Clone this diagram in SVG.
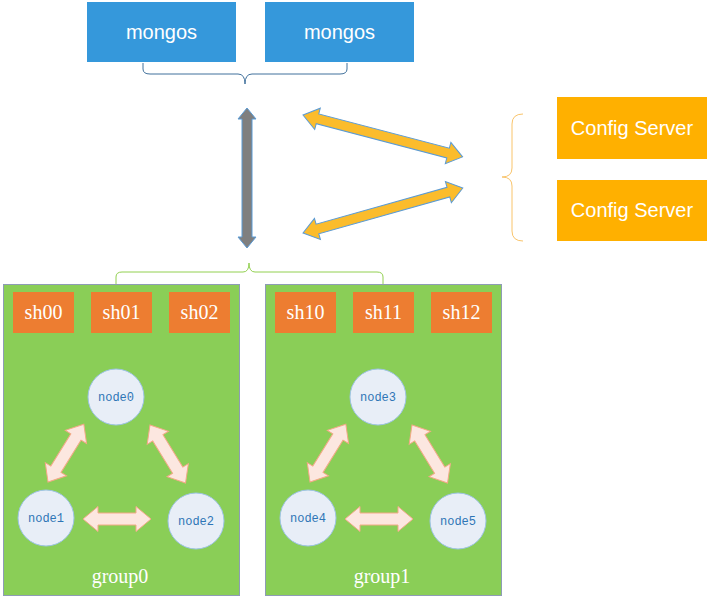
<svg xmlns="http://www.w3.org/2000/svg" xmlns:xlink="http://www.w3.org/1999/xlink" width="708" height="599" viewBox="0 0 708 599">
<style>
.mg{fill:#3598DB}
.mgt{fill:#fff;font-family:"Liberation Sans",Arial,sans-serif;font-size:20px;text-anchor:middle}
.cf{fill:#FFB000}
.grp{fill:#8ACE57;stroke:#8E9CB5;stroke-width:1}
.sh{fill:#ED7D31}
.sht{fill:#fff;font-family:"Liberation Serif","Times New Roman",serif;font-size:20px;text-anchor:middle}
.gt{fill:#fff;font-family:"Liberation Serif","Times New Roman",serif;font-size:20px;text-anchor:middle}
.nd{fill:#E8EEF7;stroke:#9DC3E6;stroke-width:1}
.ndt{fill:#2E75B6;font-family:"Liberation Mono","Courier New",monospace;font-size:12px;text-anchor:middle}
.pa{fill:#FCE7E0;stroke:#F4A987;stroke-width:1}
.oa{fill:#FBBC2C;stroke:#5B9BD5;stroke-width:1}
.ga{fill:#7F7F7F;stroke:#5B9BD5;stroke-width:1}
.br{fill:none;stroke-width:1}
</style>
<defs>
<path id="peach" d="M0,0 L15,-12.5 L15,-6 L53,-6 L53,-12.5 L68,0 L53,12.5 L53,6 L15,6 L15,12.5 Z"/>
</defs>

<g id="mongos1"><rect class="mg" x="87" y="2" width="149" height="60"/><text class="mgt" x="161.5" y="39">mongos</text></g>
<g id="mongos2"><rect class="mg" x="265" y="2" width="149" height="60"/><text class="mgt" x="339.5" y="39">mongos</text></g>

<g id="config1"><rect class="cf" x="557" y="97" width="150" height="62"/><text class="mgt" x="632" y="135">Config Server</text></g>
<g id="config2"><rect class="cf" x="557" y="180" width="150" height="61"/><text class="mgt" x="632" y="217">Config Server</text></g>

<g id="group0">
<rect class="grp" x="3.5" y="284.5" width="236" height="311"/>
<rect class="sh" x="13" y="292" width="61" height="41"/><text class="sht" x="43.5" y="319">sh00</text>
<rect class="sh" x="91" y="292" width="61" height="41"/><text class="sht" x="121.5" y="319">sh01</text>
<rect class="sh" x="169" y="292" width="61" height="41"/><text class="sht" x="199.5" y="319">sh02</text>
<g id="node0"><circle class="nd" cx="116" cy="397" r="28"/><text class="ndt" x="116" y="401">node0</text></g>
<g id="node1"><circle class="nd" cx="46" cy="518" r="28"/><text class="ndt" x="46" y="522">node1</text></g>
<g id="node2"><circle class="nd" cx="196" cy="521" r="28"/><text class="ndt" x="196" y="525">node2</text></g>
<text class="gt" x="120" y="583">group0</text>
</g>

<g id="group1">
<rect class="grp" x="265.5" y="284.5" width="236" height="311"/>
<rect class="sh" x="275" y="292" width="61" height="41"/><text class="sht" x="305.5" y="319">sh10</text>
<rect class="sh" x="353" y="292" width="61" height="41"/><text class="sht" x="383.5" y="319">sh11</text>
<rect class="sh" x="431" y="292" width="61" height="41"/><text class="sht" x="461.5" y="319">sh12</text>
<g id="node3"><circle class="nd" cx="378" cy="397" r="28"/><text class="ndt" x="378" y="401">node3</text></g>
<g id="node4"><circle class="nd" cx="308" cy="518" r="28"/><text class="ndt" x="308" y="522">node4</text></g>
<g id="node5"><circle class="nd" cx="458" cy="521" r="28"/><text class="ndt" x="458" y="525">node5</text></g>
<text class="gt" x="382" y="583">group1</text>
</g>

<g id="connectors">
<path class="br" stroke="#41719C" d="M143,63 V69 Q143,74 150,74 H238 Q245,74 245,84 Q245,74 252,74 H340 Q347,74 347,69 V63"/>
<path class="br" stroke="#92D050" d="M116,284 V277 Q116,272 122,272 H243 Q249,272 249,263 Q249,272 255,272 H377 Q383,272 383,277 V284"/>
<path class="br" stroke="#F9C46B" d="M523,114 Q512,114 512,124 V168 Q512,177 502,177 Q512,177 512,186 V231 Q512,241 523,241"/>
<path class="ga" d="M247,108 L256,119 L252,119 L252,237 L256,237 L247,248 L238,237 L242,237 L242,119 L238,119 Z"/>
<path class="oa" transform="translate(303,115) rotate(14.7)" d="M0,0 L15,-11 L15,-5 L150,-5 L150,-11 L165,0 L150,11 L150,5 L15,5 L15,11 Z"/>
<path class="oa" transform="translate(303,233) rotate(-15.7)" d="M0,0 L15,-11 L15,-5 L151,-5 L151,-11 L166,0 L151,11 L151,5 L15,5 L15,11 Z"/>
<use xlink:href="#peach" class="pa" transform="translate(48,482) rotate(-58.2)"/>
<use xlink:href="#peach" class="pa" transform="translate(150,425) rotate(58.5)"/>
<use xlink:href="#peach" class="pa" transform="translate(83,519)"/>
<use xlink:href="#peach" class="pa" transform="translate(310,482) rotate(-58.2)"/>
<use xlink:href="#peach" class="pa" transform="translate(412,425) rotate(58.5)"/>
<use xlink:href="#peach" class="pa" transform="translate(345,519)"/>
</g>
</svg>
